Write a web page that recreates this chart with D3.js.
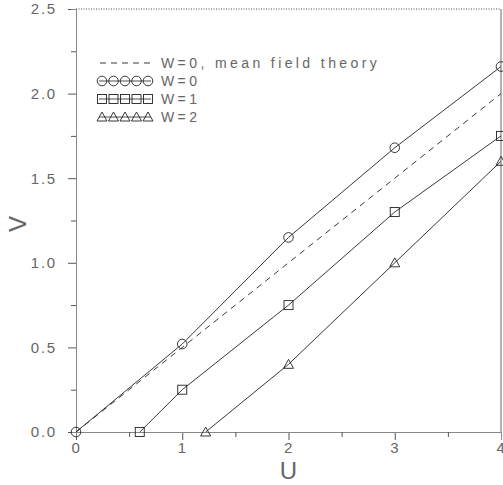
<!DOCTYPE html>
<html>
<head>
<meta charset="utf-8">
<script src="https://cdn.jsdelivr.net/npm/d3@7"></script>
<style>
body { margin: 0; background: #fff; }
text { font-family: "Liberation Sans", Arial, sans-serif; fill: #666; }
</style>
</head>
<body>
<svg id="chart" width="503" height="485"></svg>
<script>
// data
var mfU = [0, 1, 2, 3, 4];
var mfV = [0, 0.5, 1.0, 1.5, 2.0];
var w0U = [0, 1, 2, 3, 4];
var w0V = [0, 0.52, 1.15, 1.68, 2.16];
var w1U = [0.6, 1, 2, 3, 4];
var w1V = [0, 0.25, 0.75, 1.3, 1.75];
var w2U = [1.22, 2, 3, 4];
var w2V = [0, 0.4, 1.0, 1.6];
var xTicks = [0, 1, 2, 3, 4];
var yTicks = [0, 0.5, 1.0, 1.5, 2.0, 2.5];
var legendLabels = ["W=0,  mean field theory", "W=0", "W=1", "W=2"];

var svg = d3.select("#chart");
var L = 76, R = 501, T = 9, B = 432;

var x = d3.scaleLinear().domain([0, 4]).range([L, R]);
var y = d3.scaleLinear().domain([0, 2.5]).range([B, T]);

function pts(us, vs) { return us.map((u, i) => [u, vs[i]]); }

// frame
svg.append("line").attr("x1", L).attr("x2", R).attr("y1", T).attr("y2", T)
    .attr("stroke", "#444").attr("stroke-dasharray", "1,1.5");
svg.append("line").attr("x1", R).attr("x2", R).attr("y1", T).attr("y2", B)
    .attr("stroke", "#666");

// axes
var xAxis = d3.axisBottom(x).tickValues(xTicks).tickFormat(d3.format("d")).tickSize(8).tickPadding(2);
var gx = svg.append("g").attr("transform", `translate(0,${B})`).call(xAxis);
gx.selectAll("line").filter((d, i) => i == 4).remove();
var xMinor = d3.axisBottom(x).tickValues([0.5, 1.5, 2.5, 3.5]).tickSize(5).tickFormat("");
svg.append("g").attr("transform", `translate(0,${B})`).call(xMinor);

var yAxis = d3.axisLeft(y).tickValues(yTicks).tickFormat(d3.format(".1f")).tickSize(8).tickPadding(11);
var gy = svg.append("g").attr("transform", `translate(${L},0)`).call(yAxis);
var yMinor = d3.axisLeft(y).tickValues([0.25, 0.75, 1.25, 1.75, 2.25]).tickSize(5).tickFormat("");
svg.append("g").attr("transform", `translate(${L},0)`).call(yMinor);

svg.selectAll(".domain").attr("stroke", "#888");
svg.selectAll(".tick line").attr("stroke", "#555");
svg.selectAll(".tick text").style("font-size", "15px").style("font-family", "Liberation Sans, Arial, sans-serif")
    .style("letter-spacing", "1.8px").attr("fill", "#777");

svg.append("text").attr("x", x(2)).attr("y", 479).attr("text-anchor", "middle")
    .style("font-size", "24px").attr("fill", "#777").text("U");
svg.append("text").attr("x", 17).attr("y", y(1.23)).attr("text-anchor", "middle")
    .attr("transform", `rotate(-90,17,${y(1.23)})`).style("font-size", "24px").attr("fill", "#777")
    .attr("dy", "0.36em").text("V");

var line = d3.line().x(d => x(d[0])).y(d => y(d[1]));

svg.append("path").datum(pts(mfU, mfV)).attr("d", line).attr("fill", "none")
    .attr("stroke", "#222").attr("stroke-width", 0.9).attr("stroke-dasharray", "6,5");

[[w0U, w0V], [w1U, w1V], [w2U, w2V]].forEach(function(s) {
    svg.append("path").datum(pts(s[0], s[1])).attr("d", line).attr("fill", "none")
        .attr("stroke", "#222").attr("stroke-width", 0.9);
});

function circle(g, cx, cy) {
    g.append("circle").attr("cx", cx).attr("cy", cy).attr("r", 4.8)
        .attr("fill", "none").attr("stroke", "#222").attr("stroke-width", 0.9);
}
function square(g, cx, cy) {
    g.append("rect").attr("x", cx - 4.5).attr("y", cy - 4.5).attr("width", 9).attr("height", 9)
        .attr("fill", "none").attr("stroke", "#222").attr("stroke-width", 0.9);
}
function triangle(g, cx, cy) {
    g.append("path").attr("d", `M${cx},${cy - 5}L${cx + 5},${cy + 4}L${cx - 5},${cy + 4}Z`)
        .attr("fill", "none").attr("stroke", "#222").attr("stroke-width", 0.9);
}

var marks = svg.append("g");
w0U.forEach((u, i) => circle(marks, x(u), y(w0V[i])));
w1U.forEach((u, i) => square(marks, x(u), y(w1V[i])));
w2U.forEach((u, i) => triangle(marks, x(u), y(w2V[i])));

// legend
var lg = svg.append("g");
var rowY = [63, 81, 99, 117];
var symFns = [null, circle, square, triangle];
rowY.forEach(function(ry, k) {
    if (k == 0) {
        lg.append("line").attr("x1", 100).attr("x2", 152).attr("y1", ry).attr("y2", ry)
            .attr("stroke", "#222").attr("stroke-width", 0.9).attr("stroke-dasharray", "6,5");
    } else {
        lg.append("line").attr("x1", 99).attr("x2", 151).attr("y1", ry).attr("y2", ry)
            .attr("stroke", "#222").attr("stroke-width", 0.8);
        for (var j = 0; j < 5; j++) symFns[k](lg, 102 + j * 11.5, ry);
    }
    lg.append("text").attr("x", 161).attr("y", ry).attr("dy", "0.36em")
        .style("font-size", "14px").style("letter-spacing", "3.4px").attr("fill", "#666")
        .text(legendLabels[k]);
});
</script>
</body>
</html>
